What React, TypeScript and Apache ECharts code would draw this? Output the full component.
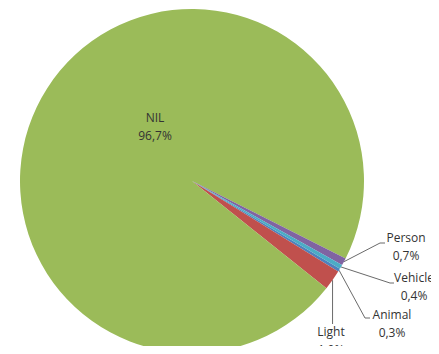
import React, { useEffect, useRef } from "react";
import * as echarts from "echarts";

// Share of detections per class, in percent
const categories = ["Animal", "Light", "NIL", "Person", "Vehicle"];
const shares = [0.3, 1.9, 96.7, 0.7, 0.4];
const colors = ["#4F81BD", "#C0504D", "#9BBB59", "#8064A2", "#4BACC6"];

// Where each label sits and where its leader line bends
type LabelSpot = { x: number; y: number; bend?: number[][] };
const labelSpots: Record<string, LabelSpot> = {
  NIL: { x: 155, y: 126 },
  Person: { x: 406, y: 246, bend: [[380, 243], [385, 243]] },
  Vehicle: { x: 414, y: 286, bend: [[390, 283], [394, 283]] },
  Animal: { x: 392, y: 323, bend: [[365, 318], [370, 318]] },
  Light: { x: 331, y: 340, bend: [] },
};

const fmt = (v: number) => v.toFixed(1).replace(".", ",") + "%";

export default function App() {
  const ref = useRef<HTMLDivElement>(null);

  useEffect(() => {
    if (!ref.current) return;
    const chart = echarts.init(ref.current, null, { renderer: "svg" });

    const data = categories.map((name, i) => ({
      name,
      value: shares[i],
      itemStyle: { color: colors[i] },
      label: name === "NIL" ? { position: "inside" } : undefined,
      labelLine: name === "NIL" ? { show: false } : undefined,
    }));

    chart.setOption({
      animation: false,
      backgroundColor: "#ffffff",
      series: [
        {
          type: "pie",
          center: [192, 181],
          radius: 172,
          startAngle: -30.7,
          clockwise: true,
          silent: true,
          data,
          label: {
            show: true,
            position: "outside",
            formatter: (p: any) => `${p.name}\n${fmt(p.value)}`,
            fontFamily: "Open Sans",
            fontSize: 12,
            lineHeight: 18,
            color: "#333333",
          },
          labelLine: {
            show: true,
            length: 10,
            length2: 10,
            lineStyle: { color: "#6a6a6a", width: 1 },
          },
          labelLayout: (params: any) => {
            const name = categories[params.dataIndex];
            const spot = labelSpots[name];
            const out: any = {
              x: spot.x,
              y: spot.y,
              align: "center",
              verticalAlign: "middle",
            };
            const pts = params.labelLinePoints;
            if (spot.bend && pts && pts.length) {
              const anchor = pts[0];
              if (name === "Light") {
                out.labelLinePoints = [anchor, [anchor[0], 324]];
              } else {
                out.labelLinePoints = [anchor, ...spot.bend];
              }
            }
            return out;
          },
        },
      ],
    });

    return () => chart.dispose();
  }, []);

  return <div ref={ref} style={{ width: 439, height: 354, margin: -8 }} />;
}
